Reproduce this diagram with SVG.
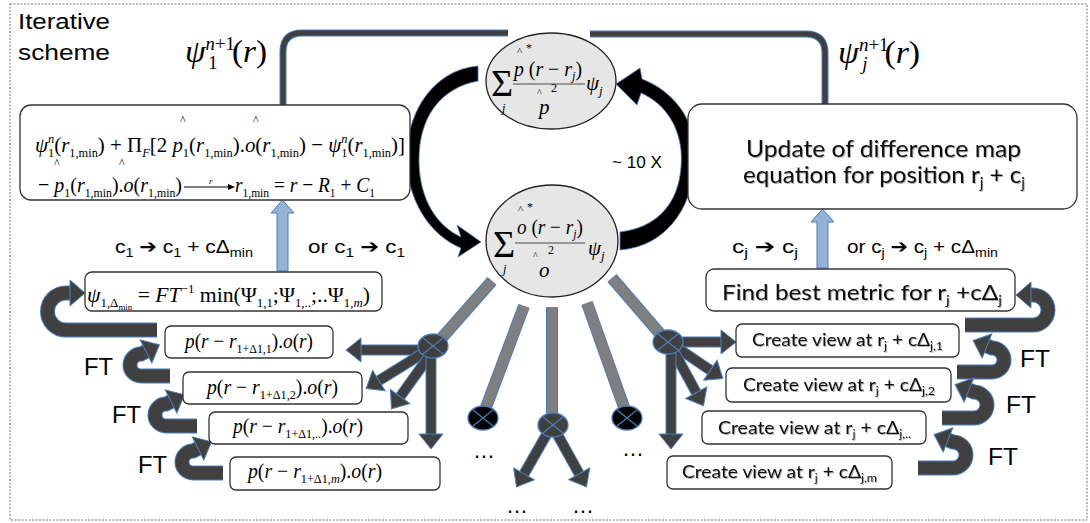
<svg xmlns="http://www.w3.org/2000/svg" width="1090" height="523" viewBox="0 0 1090 523">
<defs>
<style>
.lbl{font-family:"Liberation Sans","DejaVu Sans",Arial,sans-serif;fill:#000}
.m{font-family:"Liberation Serif","Times New Roman",serif;fill:#000}
.i{font-style:italic}
.cal{font-family:Lato,"Open Sans",sans-serif;fill:#111;filter:url(#ts)}
.box{fill:#fff;stroke:#333;stroke-width:1.3}
.spo{stroke:#4a7ebb;stroke-width:12;fill:none}
.spi{stroke:#7f7f7f;stroke-width:10;fill:none}
.sho{stroke:#4a7ebb;stroke-width:11;fill:none}
.sh{stroke:#404040;stroke-width:9;fill:none;marker-end:url(#ah)}
.lpo{stroke:#4a7ebb;stroke-width:15;fill:none}
.lp{stroke:#404040;stroke-width:13;fill:none;marker-end:url(#ah2)}
.hub{stroke:#4a7ebb;stroke-width:1.3}
.x{stroke:#4a7ebb;stroke-width:1.2}
.blue{fill:#95b3d7;stroke:#4a7ebb;stroke-width:1}
</style>
<filter id="ts" x="-5%" y="-20%" width="110%" height="150%"><feDropShadow dx="1" dy="1" stdDeviation="0.7" flood-color="#000" flood-opacity="0.3"/></filter>
<marker id="ah" markerUnits="userSpaceOnUse" markerWidth="20" markerHeight="26" refX="0" refY="12" orient="auto" overflow="visible"><path d="M0,0 L15,12 L0,24 Z" fill="#404040" stroke="#4a7ebb" stroke-width="1"/></marker>
<marker id="ah2" markerUnits="userSpaceOnUse" markerWidth="20" markerHeight="30" refX="0" refY="13" orient="auto" overflow="visible"><path d="M0,0 L15,13 L0,26 Z" fill="#404040" stroke="#4a7ebb" stroke-width="1"/></marker>
<marker id="sa" markerUnits="userSpaceOnUse" markerWidth="8" markerHeight="8" refX="0" refY="3" orient="auto" overflow="visible"><path d="M0,0 L7,3 L0,6 Z" fill="#000"/></marker>
</defs>
<rect x="0" y="0" width="1090" height="523" fill="#fff"/>
<rect x="10" y="4" width="1077" height="516" fill="none" stroke="#777" stroke-width="1" stroke-dasharray="2,1.5"/>
<text class="lbl" x="18" y="29" font-size="22" textLength="92" lengthAdjust="spacingAndGlyphs">Iterative</text>
<text class="lbl" x="18" y="60" font-size="22" textLength="92" lengthAdjust="spacingAndGlyphs">scheme</text>

<g id="connectors">
<path d="M283,106 V52 Q283,33 302,33 H508" fill="none" stroke="#4a7ebb" stroke-width="7"/>
<path d="M283,106 V52 Q283,33 302,33 H508" fill="none" stroke="#404040" stroke-width="5"/>
<path d="M590,34 H806 Q825,34 825,53 V105" fill="none" stroke="#4a7ebb" stroke-width="7"/>
<path d="M590,34 H806 Q825,34 825,53 V105" fill="none" stroke="#404040" stroke-width="5"/>
<path d="M478,66 C432,70 404,115 407,165 C410,205 432,236 461,248 L458,257 L481,242 L457,225 L461,237 C437,226 420,200 419,163 C418,118 440,88 478,81 Z" fill="#000" stroke="#4a7ebb" stroke-width="0.8"/>
<path d="M620,232 C668,226 684,190 681,150 C678,122 662,102 641,93 L637,105 L616,84 L640,68 L642,79 C673,91 694,118 695,152 C696,202 670,246 620,250 Z" fill="#000" stroke="#4a7ebb" stroke-width="0.8"/>
<polygon class="blue" points="277,271 288,271 288,213 294,213 282.5,200 271,213 277,213"/>
<polygon class="blue" points="817,268 828,268 828,222 834,222 822.5,209 811,222 817,222"/>
<line class="spo" x1="492" y1="281" x2="440" y2="340"/><line class="spi" x1="492" y1="281" x2="440" y2="340"/>
<line class="spo" x1="524" y1="306" x2="485" y2="410"/><line class="spi" x1="524" y1="306" x2="485" y2="410"/>
<line class="spo" x1="552" y1="307" x2="552" y2="415"/><line class="spi" x1="552" y1="307" x2="552" y2="415"/>
<line class="spo" x1="587" y1="303" x2="625" y2="410"/><line class="spi" x1="587" y1="303" x2="625" y2="410"/>
<line class="spo" x1="612" y1="278" x2="662" y2="336"/><line class="spi" x1="612" y1="278" x2="662" y2="336"/>
<line class="sho" x1="425" y1="350" x2="361" y2="350"/><line class="sh" x1="425" y1="350" x2="361" y2="350"/>
<line class="sho" x1="425" y1="352" x2="378.9" y2="380.6"/><line class="sh" x1="425" y1="352" x2="378.9" y2="380.6"/>
<line class="sho" x1="430" y1="355" x2="400.2" y2="396.6"/><line class="sh" x1="430" y1="355" x2="400.2" y2="396.6"/>
<line class="sho" x1="431" y1="356" x2="431" y2="434"/><line class="sh" x1="431" y1="356" x2="431" y2="434"/>
<line class="sho" x1="548" y1="432" x2="524" y2="473.9"/><line class="sh" x1="548" y1="432" x2="524" y2="473.9"/>
<line class="sho" x1="556" y1="432" x2="579.2" y2="473.8"/><line class="sh" x1="556" y1="432" x2="579.2" y2="473.8"/>
<line class="sho" x1="676" y1="342" x2="721" y2="342"/><line class="sh" x1="676" y1="342" x2="721" y2="342"/>
<line class="sho" x1="676" y1="347" x2="710.4" y2="370.2"/><line class="sh" x1="676" y1="347" x2="710.4" y2="370.2"/>
<line class="sho" x1="673" y1="350" x2="696.3" y2="392.7"/><line class="sh" x1="673" y1="350" x2="696.3" y2="392.7"/>
<line class="sho" x1="671" y1="352" x2="671" y2="434"/><line class="sh" x1="671" y1="352" x2="671" y2="434"/>
<path class="lpo" d="M157,330 H66 A18.5,18.5 0 0 1 66,293 H70"/><path class="lp" d="M157,330 H66 A18.5,18.5 0 0 1 66,293 H70"/>
<path class="lpo" d="M170,376 H141 A11,11 0 0 1 141,354 L146,351.5"/><path class="lp" d="M170,376 H141 A11,11 0 0 1 141,354 L146,351.5"/>
<path class="lpo" d="M197,426 H166 A11,11 0 0 1 166,404 L171,401.5"/><path class="lp" d="M197,426 H166 A11,11 0 0 1 166,404 L171,401.5"/>
<path class="lpo" d="M223,473 H193 A11,11 0 0 1 193,451 L198,448.5"/><path class="lp" d="M223,473 H193 A11,11 0 0 1 193,451 L198,448.5"/>
<path class="lpo" d="M965,325 H1033 A15,15 0 0 0 1033,295 H1031"/><path class="lp" d="M965,325 H1033 A15,15 0 0 0 1033,295 H1031"/>
<path class="lpo" d="M957,372 H992 A12,12 0 0 0 992,348 L987,346"/><path class="lp" d="M957,372 H992 A12,12 0 0 0 992,348 L987,346"/>
<path class="lpo" d="M942,418 H974 A13,13 0 0 0 974,392 L969,390"/><path class="lp" d="M942,418 H974 A13,13 0 0 0 974,392 L969,390"/>
<path class="lpo" d="M918,468 H953 A13,13 0 0 0 953,442 L948,440"/><path class="lp" d="M918,468 H953 A13,13 0 0 0 953,442 L948,440"/>
</g>

<g id="hubs">
<ellipse class="hub" cx="433" cy="346" rx="15" ry="12" fill="#404040"/><path class="x" d="M422.4,337.5 L443.6,354.5 M443.6,337.5 L422.4,354.5"/>
<ellipse class="hub" cx="483" cy="418" rx="15" ry="12" fill="#000"/><path class="x" d="M472.4,409.5 L493.6,426.5 M493.6,409.5 L472.4,426.5"/>
<ellipse class="hub" cx="553" cy="425" rx="15" ry="12" fill="#404040"/><path class="x" d="M542.4,416.5 L563.6,433.5 M563.6,416.5 L542.4,433.5"/>
<ellipse class="hub" cx="627" cy="418" rx="15" ry="12" fill="#000"/><path class="x" d="M616.4,409.5 L637.6,426.5 M637.6,409.5 L616.4,426.5"/>
<ellipse class="hub" cx="668" cy="342" rx="15" ry="12" fill="#404040"/><path class="x" d="M657.4,333.5 L678.6,350.5 M678.6,333.5 L657.4,350.5"/>
</g>

<g class="lbl" font-size="22">
<text x="473" y="458">…</text><text x="622" y="456">…</text><text x="506" y="513">…</text><text x="572" y="513">…</text>
</g>

<text class="m" x="185" y="62" font-size="32" textLength="82" lengthAdjust="spacingAndGlyphs"><tspan class="i">ψ</tspan><tspan font-size="18" class="i" dy="-12">n</tspan><tspan font-size="18" dy="0">+1</tspan><tspan dx="-25" dy="19" font-size="18">1</tspan><tspan dx="14" dy="-7">(</tspan><tspan class="i">r</tspan><tspan>)</tspan></text>
<text class="m" x="838" y="63" font-size="32" textLength="82" lengthAdjust="spacingAndGlyphs"><tspan class="i">ψ</tspan><tspan font-size="18" class="i" dy="-12">n</tspan><tspan font-size="18" dy="0">+1</tspan><tspan dx="-25" dy="19" font-size="18" class="i">j</tspan><tspan dx="16" dy="-7">(</tspan><tspan class="i">r</tspan><tspan>)</tspan></text>

<g id="circle-top">
<ellipse cx="551" cy="81" rx="65" ry="48" fill="#e6e6e6" stroke="#222" stroke-width="1.3"/>
<text class="m" x="491" y="96" font-size="38">Σ</text>
<text class="m i" x="502" y="112" font-size="12">j</text>
<text class="m" x="517" y="55" font-size="11">^</text><text class="m" x="526" y="52" font-size="12">*</text>
<text class="m" x="514" y="76" font-size="21" textLength="68" lengthAdjust="spacingAndGlyphs"><tspan class="i">p</tspan><tspan> (</tspan><tspan class="i">r</tspan><tspan> − </tspan><tspan class="i">r</tspan><tspan font-size="13" class="i" dy="4">j</tspan><tspan dy="-4">)</tspan></text>
<line x1="513" y1="84" x2="585" y2="84" stroke="#222" stroke-width="0.8"/>
<text class="m" x="537" y="96" font-size="10">^</text><text class="m" x="551" y="92" font-size="12">2</text>
<text class="m i" x="539" y="114" font-size="21">p</text>
<text class="m" x="586" y="90" font-size="21"><tspan class="i">ψ</tspan><tspan font-size="13" class="i" dy="5">j</tspan></text>
</g>

<g id="circle-bottom">
<ellipse cx="552" cy="241" rx="66" ry="56" fill="#e6e6e6" stroke="#222" stroke-width="1.3"/>
<text class="m" x="493" y="257" font-size="38">Σ</text>
<text class="m i" x="503" y="273" font-size="12">j</text>
<text class="m" x="518" y="213" font-size="11">^</text><text class="m" x="527" y="211" font-size="12">*</text>
<text class="m" x="517" y="234" font-size="21" textLength="66" lengthAdjust="spacingAndGlyphs"><tspan class="i">o</tspan><tspan> (</tspan><tspan class="i">r</tspan><tspan> − </tspan><tspan class="i">r</tspan><tspan font-size="13" class="i" dy="4">j</tspan><tspan dy="-4">)</tspan></text>
<line x1="515" y1="243" x2="585" y2="243" stroke="#222" stroke-width="0.8"/>
<text class="m" x="533" y="259" font-size="10">^</text><text class="m" x="548" y="254" font-size="12">2</text>
<text class="m i" x="539" y="277" font-size="21">o</text>
<text class="m" x="588" y="255" font-size="21"><tspan class="i">ψ</tspan><tspan font-size="13" class="i" dy="5">j</tspan></text>
</g>

<text class="lbl" x="612" y="168" font-size="16" textLength="50" lengthAdjust="spacingAndGlyphs">~ 10 X</text>

<g id="update-left">
<rect class="box" x="20" y="105" width="390" height="95" rx="11"/>
<text class="m" x="35" y="152" font-size="22" textLength="370" lengthAdjust="spacingAndGlyphs"><tspan class="i">ψ</tspan><tspan font-size="13" class="i" dy="-9">n</tspan><tspan font-size="13" dx="-6.5" dy="14">1</tspan><tspan dy="-5">(</tspan><tspan class="i">r</tspan><tspan font-size="13" dy="5">1,min</tspan><tspan dy="-5">) + Π</tspan><tspan font-size="13" class="i" dy="5">F</tspan><tspan dy="-5">[2 </tspan><tspan class="i">p</tspan><tspan font-size="13" dy="5">1</tspan><tspan dy="-5">(</tspan><tspan class="i">r</tspan><tspan font-size="13" dy="5">1,min</tspan><tspan dy="-5">).</tspan><tspan class="i">o</tspan><tspan>(</tspan><tspan class="i">r</tspan><tspan font-size="13" dy="5">1,min</tspan><tspan dy="-5">) − </tspan><tspan class="i">ψ</tspan><tspan font-size="13" class="i" dy="-9">n</tspan><tspan font-size="13" dx="-6.5" dy="14">1</tspan><tspan dy="-5">(</tspan><tspan class="i">r</tspan><tspan font-size="13" dy="5">1,min</tspan><tspan dy="-5">)]</tspan></text>
<text class="m" x="38" y="192" font-size="22" textLength="144" lengthAdjust="spacingAndGlyphs"><tspan>− </tspan><tspan class="i">p</tspan><tspan font-size="13" dy="5">1</tspan><tspan dy="-5">(</tspan><tspan class="i">r</tspan><tspan font-size="13" dy="5">1,min</tspan><tspan dy="-5">).</tspan><tspan class="i">o</tspan><tspan>(</tspan><tspan class="i">r</tspan><tspan font-size="13" dy="5">1,min</tspan><tspan dy="-5">)</tspan></text>
<line x1="184" y1="187" x2="228" y2="187" stroke="#000" stroke-width="1" marker-end="url(#sa)"/>
<text class="m i" x="209" y="184" font-size="9">r</text>
<text class="m" x="235" y="192" font-size="22" textLength="140" lengthAdjust="spacingAndGlyphs"><tspan class="i">r</tspan><tspan font-size="13" dy="5">1,min</tspan><tspan dy="-5"> = </tspan><tspan class="i">r</tspan><tspan> − </tspan><tspan class="i">R</tspan><tspan font-size="13" dy="5">1</tspan><tspan dy="-5"> + </tspan><tspan class="i">C</tspan><tspan font-size="13" dy="5">1</tspan></text>
<g class="m" font-size="12"><text x="180" y="124">^</text><text x="253" y="124">^</text><text x="54" y="167">^</text><text x="119" y="167">^</text></g>
</g>

<g class="lbl" font-size="19">
<text x="115" y="253" textLength="138" lengthAdjust="spacingAndGlyphs">c<tspan font-size="13" dy="4">1</tspan><tspan dy="-4"> ➔ c</tspan><tspan font-size="13" dy="4">1</tspan><tspan dy="-4"> + cΔ</tspan><tspan font-size="13" dy="4">min</tspan></text>
<text x="308" y="253" textLength="97" lengthAdjust="spacingAndGlyphs">or c<tspan font-size="13" dy="4">1</tspan><tspan dy="-4"> ➔  c</tspan><tspan font-size="13" dy="4">1</tspan></text>
<text x="732" y="253" textLength="66" lengthAdjust="spacingAndGlyphs">c<tspan font-size="13" dy="4">j</tspan><tspan dy="-4"> ➔  c</tspan><tspan font-size="13" dy="4">j</tspan></text>
<text x="847" y="253" textLength="151" lengthAdjust="spacingAndGlyphs">or c<tspan font-size="13" dy="4">j</tspan><tspan dy="-4"> ➔ c</tspan><tspan font-size="13" dy="4">j</tspan><tspan dy="-4"> + cΔ</tspan><tspan font-size="13" dy="4">min</tspan></text>
</g>

<g id="psi-min">
<rect class="box" x="85" y="272" width="297" height="39" rx="7"/>
<text class="m" x="87" y="302" font-size="22" textLength="283" lengthAdjust="spacingAndGlyphs"><tspan class="i">ψ</tspan><tspan font-size="13" dy="5">1,Δ</tspan><tspan font-size="9" dy="3">min</tspan><tspan dy="-8"> = </tspan><tspan class="i">FT</tspan><tspan font-size="13" dy="-9">−1</tspan><tspan dy="9"> min(Ψ</tspan><tspan font-size="13" dy="5">1,1</tspan><tspan dy="-5">;Ψ</tspan><tspan font-size="13" dy="5">1,..</tspan><tspan dy="-5">;..Ψ</tspan><tspan font-size="13" dy="5">1,</tspan><tspan font-size="13" class="i">m</tspan><tspan dy="-5">)</tspan></text>
</g>

<g id="p1"><rect class="box" x="165" y="326" width="168" height="32" rx="6"/>
<text class="m" x="185" y="348" font-size="21" textLength="128" lengthAdjust="spacingAndGlyphs"><tspan class="i">p</tspan><tspan>(</tspan><tspan class="i">r</tspan><tspan> − </tspan><tspan class="i">r</tspan><tspan font-size="13" dy="5">1+Δ1,1</tspan><tspan dy="-5">).</tspan><tspan class="i">o</tspan><tspan>(</tspan><tspan class="i">r</tspan><tspan>)</tspan></text></g>
<g id="p2"><rect class="box" x="183" y="372" width="179" height="32" rx="6"/>
<text class="m" x="207" y="394" font-size="21" textLength="131" lengthAdjust="spacingAndGlyphs"><tspan class="i">p</tspan><tspan>(</tspan><tspan class="i">r</tspan><tspan> − </tspan><tspan class="i">r</tspan><tspan font-size="13" dy="5">1+Δ1,2</tspan><tspan dy="-5">).</tspan><tspan class="i">o</tspan><tspan>(</tspan><tspan class="i">r</tspan><tspan>)</tspan></text></g>
<g id="p3"><rect class="box" x="209" y="412" width="199" height="32" rx="6"/>
<text class="m" x="233" y="433" font-size="21" textLength="130" lengthAdjust="spacingAndGlyphs"><tspan class="i">p</tspan><tspan>(</tspan><tspan class="i">r</tspan><tspan> − </tspan><tspan class="i">r</tspan><tspan font-size="13" dy="5">1+Δ1,..</tspan><tspan dy="-5">).</tspan><tspan class="i">o</tspan><tspan>(</tspan><tspan class="i">r</tspan><tspan>)</tspan></text></g>
<g id="p4"><rect class="box" x="230" y="457" width="210" height="33" rx="6"/>
<text class="m" x="248" y="478" font-size="21" textLength="134" lengthAdjust="spacingAndGlyphs"><tspan class="i">p</tspan><tspan>(</tspan><tspan class="i">r</tspan><tspan> − </tspan><tspan class="i">r</tspan><tspan font-size="13" dy="5">1+Δ1,</tspan><tspan font-size="13" class="i">m</tspan><tspan dy="-5">).</tspan><tspan class="i">o</tspan><tspan>(</tspan><tspan class="i">r</tspan><tspan>)</tspan></text></g>

<g class="lbl" font-size="24">
<text x="84" y="375" textLength="29" lengthAdjust="spacingAndGlyphs">FT</text>
<text x="112" y="423" textLength="29" lengthAdjust="spacingAndGlyphs">FT</text>
<text x="138" y="473" textLength="29" lengthAdjust="spacingAndGlyphs">FT</text>
<text x="1020" y="367" textLength="30" lengthAdjust="spacingAndGlyphs">FT</text>
<text x="1006" y="413" textLength="30" lengthAdjust="spacingAndGlyphs">FT</text>
<text x="988" y="465" textLength="30" lengthAdjust="spacingAndGlyphs">FT</text>
</g>

<g id="update-right">
<rect class="box" x="688" y="104" width="389" height="105" rx="14"/>
<text class="cal" x="746" y="157" font-size="24" textLength="275" lengthAdjust="spacingAndGlyphs">Update of difference map</text>
<text class="cal" x="743" y="183" font-size="24" textLength="282" lengthAdjust="spacingAndGlyphs">equation for position r<tspan font-size="15" dy="5">j</tspan><tspan dy="-5"> + c</tspan><tspan font-size="15" dy="5">j</tspan></text>
</g>
<g id="find"><rect class="box" x="706" y="269" width="309" height="42" rx="8"/>
<text class="cal" x="722" y="300" font-size="22" textLength="280" lengthAdjust="spacingAndGlyphs">Find best metric for r<tspan font-size="14" dy="5">j</tspan><tspan dy="-5"> +cΔ</tspan><tspan font-size="14" dy="5">j</tspan></text></g>
<g id="cv1"><rect class="box" x="736" y="324" width="223" height="33" rx="6"/>
<text class="cal" x="752" y="346" font-size="17" textLength="191" lengthAdjust="spacingAndGlyphs">Create view at r<tspan font-size="11" dy="4">j</tspan><tspan dy="-4">  + cΔ</tspan><tspan font-size="11" dy="4">j,1</tspan></text></g>
<g id="cv2"><rect class="box" x="726" y="368" width="225" height="34" rx="6"/>
<text class="cal" x="743" y="391" font-size="17" textLength="192" lengthAdjust="spacingAndGlyphs">Create view at r<tspan font-size="11" dy="4">j</tspan><tspan dy="-4">  + cΔ</tspan><tspan font-size="11" dy="4">j,2</tspan></text></g>
<g id="cv3"><rect class="box" x="702" y="411" width="224" height="33" rx="6"/>
<text class="cal" x="718" y="434" font-size="17" textLength="193" lengthAdjust="spacingAndGlyphs">Create view at r<tspan font-size="11" dy="4">j</tspan><tspan dy="-4">  + cΔ</tspan><tspan font-size="11" dy="4">j,..</tspan></text></g>
<g id="cv4"><rect class="box" x="667" y="456" width="225" height="33" rx="6"/>
<text class="cal" x="682" y="478" font-size="17" textLength="195" lengthAdjust="spacingAndGlyphs">Create view at r<tspan font-size="11" dy="4">j</tspan><tspan dy="-4">  + cΔ</tspan><tspan font-size="11" dy="4">j,m</tspan></text></g>
</svg>
